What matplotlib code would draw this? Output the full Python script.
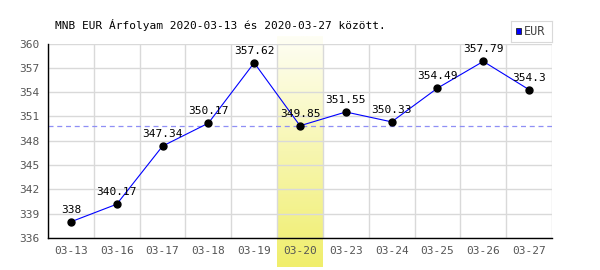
import numpy as np
import matplotlib
matplotlib.use("Agg")
import matplotlib.pyplot as plt
from matplotlib.colors import LinearSegmentedColormap

dates = ["03-13", "03-16", "03-17", "03-18", "03-19", "03-20",
         "03-23", "03-24", "03-25", "03-26", "03-27"]
rates = [338, 340.17, 347.34, 350.17, 357.62, 349.85,
         351.55, 350.33, 354.49, 357.79, 354.3]
rate_labels = ["338", "340.17", "347.34", "350.17", "357.62", "349.85",
               "351.55", "350.33", "354.49", "357.79", "354.3"]
ref_rate = 349.85
highlight = "03-20"
y_ticks = [336, 339, 342, 345, 348, 351, 354, 357, 360]
title = "MNB EUR Árfolyam 2020-03-13 és 2020-03-27 között."

plt.rcParams["font.family"] = ["DejaVu Sans Mono"]

W, H = 600, 270
fig = plt.figure(figsize=(W / 100, H / 100), dpi=100)

x0, x1, ytop, ybot = 48, 552, 43.5, 238
n = len(dates)
cw = (x1 - x0) / n

# highlighted day band (gradient, extends outside plot area)
hi = dates.index(highlight)
band = fig.add_axes([(x0 + hi * cw) / W, 3 / H, cw / W, 231 / H])
cmap = LinearSegmentedColormap.from_list("band", ["#fefef4", "#f0ee6c"])
band.imshow(np.linspace(0, 1, 200).reshape(-1, 1), aspect="auto", cmap=cmap)
band.set_axis_off()

ax = fig.add_axes([x0 / W, (H - ybot) / H, (x1 - x0) / W, (ybot - ytop) / H])
ax.patch.set_alpha(0)
x = np.arange(n)
ax.set_xlim(-0.5, n - 0.5)
ax.set_ylim(336, 360)

for yv in y_ticks:
    ax.axhline(yv, color="#d9d9d9", lw=1, zorder=0)
for i in range(n + 1):
    ax.axvline(i - 0.5, color="#d9d9d9", lw=1, zorder=0)

ax.axhline(ref_rate, color="#8f8ff5", lw=0.9, ls=(0, (4, 3)), zorder=1)

ax.plot(x, rates, color="#0000ff", lw=0.8, zorder=2)
ax.plot(x, rates, "o", color="black", ms=5, zorder=3)
for xi, yv, lab in zip(x, rates, rate_labels):
    ax.annotate(lab, (xi, yv), xytext=(0, 5), textcoords="offset points",
                ha="center", va="bottom", fontsize=8, color="black", zorder=4)

ax.set_xticks(x)
ax.set_xticklabels(dates)
ax.set_yticks(y_ticks)
ax.tick_params(length=0, labelsize=8, labelcolor="#555555", pad=6)
for s in ("top", "right"):
    ax.spines[s].set_visible(False)
for s in ("left", "bottom"):
    ax.spines[s].set_color("black")
    ax.spines[s].set_linewidth(1)

fig.text(55 / W, 1 - 25 / H, title, fontsize=8, va="center", ha="left")

# legend box
lg = fig.add_axes([511 / W, 1 - 42 / H, 41 / W, 21 / H])
lg.set_xticks([]); lg.set_yticks([])
for s in lg.spines.values():
    s.set_color("#d9d9d9")
lg.set_xlim(0, 41); lg.set_ylim(0, 21)
lg.add_patch(plt.Rectangle((4.7, 8), 5.6, 6, facecolor="#0000ff", edgecolor="#222222", lw=0.6))
lg.text(12.5, 10.8, "EUR", fontsize=8.5, va="center", ha="left", color="#444444")

fig.savefig("out.png", dpi=100)
